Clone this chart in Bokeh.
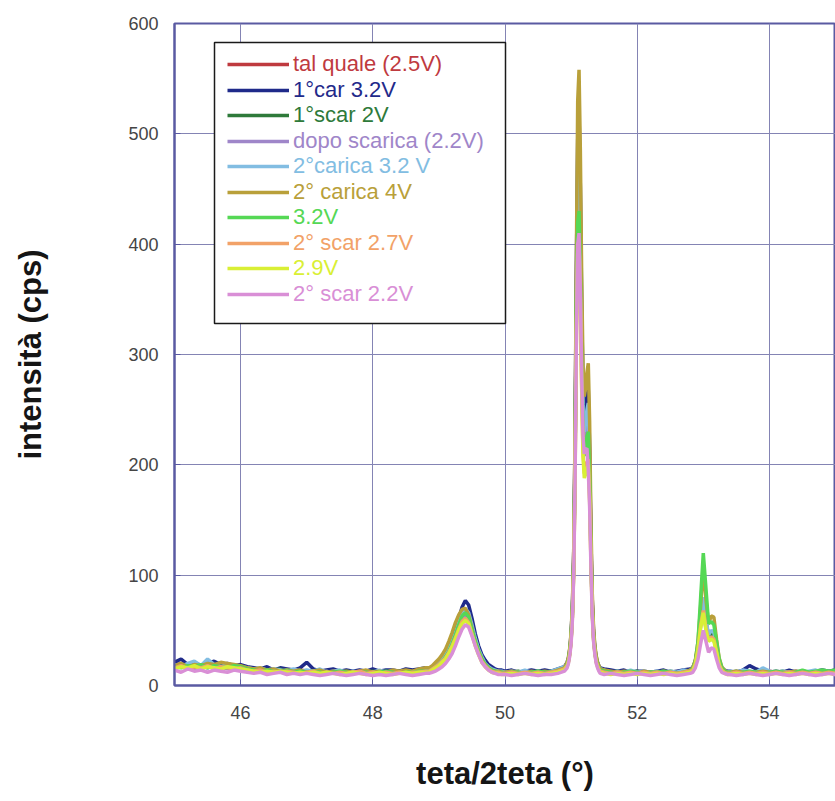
from bokeh.plotting import figure
from bokeh.models import Legend, LegendItem, BoxAnnotation, SingleIntervalTicker, Range1d
from bokeh.embed import file_html
from bokeh.resources import INLINE

# 2-theta grid (degrees)
two_theta = (
    [45.0, 45.1, 45.2, 45.3, 45.4, 45.5, 45.6, 45.7, 45.8, 45.9, 46.0, 46.1, 46.2, 46.3, 46.4, 46.5, 46.6, 46.7, 46.8, 46.9,
     47.0, 47.1, 47.2, 47.3, 47.4, 47.5, 47.6, 47.7, 47.8, 47.9, 48.0, 48.1, 48.2, 48.3, 48.4, 48.5, 48.6, 48.7, 48.8]
    + [48.85, 48.9, 48.95, 49.0, 49.05, 49.1, 49.15, 49.2, 49.25, 49.3, 49.35, 49.4, 49.45, 49.5, 49.55, 49.6, 49.65,
       49.7, 49.75, 49.8, 49.85, 49.9, 49.95]
    + [50.0, 50.1, 50.2, 50.3, 50.4, 50.5, 50.6, 50.7, 50.8, 50.9]
    + [50.94, 50.96, 50.98, 51.0, 51.02, 51.04, 51.06, 51.08, 51.1, 51.12, 51.14, 51.16, 51.18, 51.2, 51.22, 51.24,
       51.26, 51.28, 51.3, 51.32, 51.34, 51.36, 51.38, 51.4, 51.42, 51.44]
    + [51.5, 51.6, 51.7, 51.8, 51.9, 52.0, 52.1, 52.2, 52.3, 52.4, 52.5, 52.6, 52.7, 52.8]
    + [52.84, 52.88, 52.92, 52.96, 53.0, 53.04, 53.08, 53.12, 53.16, 53.2, 53.24, 53.28, 53.32, 53.36]
    + [53.4, 53.5, 53.6, 53.7, 53.8, 53.9, 54.0, 54.1, 54.2, 54.3, 54.4, 54.5, 54.6, 54.7, 54.8, 54.9, 55.0]
)

tal_quale = (
    [18, 20, 17, 19, 16, 18, 20, 16, 18, 15, 17, 14, 15, 13, 15, 12, 14, 13, 12, 14, 13, 12, 13, 11, 13, 12, 12, 11, 13, 12, 12, 11, 12, 13, 12, 11, 13, 12, 14]
    + [14, 16, 18, 20, 23, 27, 32, 39, 47, 56, 64, 68, 63, 52, 41, 32, 25, 20, 17, 15, 14, 13, 13]
    + [12, 13, 11, 12, 13, 12, 13, 12, 14, 16]
    + [20, 24, 31, 44, 68, 115, 210, 360, 460, 480, 420, 320, 250, 225, 232, 244, 250, 205, 128, 74, 47, 32, 24, 20, 17, 15]
    + [14, 13, 12, 13, 11, 12, 12, 11, 12, 13, 11, 12, 13, 14]
    + [16, 22, 36, 60, 78, 58, 45, 48, 46, 34, 21, 15, 13, 12]
    + [12, 11, 13, 12, 11, 12, 13, 12, 11, 12, 13, 11, 12, 11, 12, 13, 12]
)
car1_32 = (
    [21, 24, 19, 21, 18, 20, 22, 19, 20, 18, 19, 17, 16, 15, 17, 14, 16, 15, 14, 16, 21, 15, 13, 14, 15, 13, 14, 13, 14, 13, 15, 13, 14, 14, 13, 15, 14, 15, 16]
    + [15, 17, 19, 21, 24, 28, 33, 40, 49, 60, 71, 77, 73, 61, 47, 36, 28, 23, 19, 17, 15, 14, 14]
    + [13, 14, 12, 13, 14, 13, 14, 13, 15, 17]
    + [21, 25, 33, 47, 72, 122, 225, 380, 495, 520, 452, 345, 268, 240, 248, 262, 268, 216, 135, 78, 49, 34, 26, 21, 18, 16]
    + [15, 14, 13, 14, 12, 13, 13, 12, 13, 14, 12, 13, 14, 15]
    + [16, 22, 35, 58, 74, 56, 44, 47, 45, 33, 21, 16, 14, 13]
    + [13, 12, 14, 18, 15, 13, 12, 13, 12, 14, 12, 13, 12, 13, 14, 13, 14]
)
scar1_2 = (
    [17, 19, 18, 20, 17, 19, 18, 17, 19, 16, 18, 15, 14, 15, 13, 14, 15, 12, 14, 13, 12, 13, 12, 13, 11, 12, 13, 12, 11, 12, 13, 12, 11, 12, 13, 12, 12, 13, 13]
    + [13, 15, 17, 19, 22, 26, 31, 37, 45, 54, 62, 66, 62, 51, 40, 31, 24, 19, 16, 14, 13, 12, 12]
    + [11, 12, 13, 11, 12, 13, 12, 13, 13, 15]
    + [19, 23, 30, 42, 66, 112, 205, 350, 450, 470, 410, 312, 244, 220, 228, 240, 245, 198, 124, 71, 45, 31, 23, 19, 16, 14]
    + [13, 12, 13, 11, 12, 13, 11, 12, 12, 11, 13, 12, 12, 13]
    + [15, 21, 34, 57, 76, 56, 43, 47, 45, 33, 20, 15, 13, 12]
    + [12, 13, 11, 12, 13, 12, 11, 12, 13, 11, 12, 13, 12, 11, 12, 12, 13]
)
dopo_scarica = (
    [16, 18, 17, 15, 18, 16, 19, 17, 15, 17, 16, 14, 15, 13, 14, 12, 13, 14, 12, 13, 12, 11, 12, 13, 11, 12, 11, 12, 12, 11, 12, 11, 12, 11, 12, 11, 12, 11, 12]
    + [12, 14, 16, 18, 21, 25, 30, 36, 44, 53, 61, 64, 60, 50, 39, 30, 23, 18, 15, 13, 12, 12, 11]
    + [11, 12, 11, 12, 11, 12, 12, 11, 13, 15]
    + [18, 22, 29, 41, 63, 108, 198, 340, 435, 450, 392, 300, 235, 212, 220, 231, 236, 190, 120, 69, 43, 30, 22, 18, 15, 13]
    + [12, 11, 12, 11, 12, 11, 12, 11, 12, 11, 12, 11, 12, 13]
    + [14, 20, 32, 54, 70, 52, 41, 44, 42, 31, 19, 14, 12, 11]
    + [11, 12, 11, 12, 11, 12, 11, 12, 11, 12, 11, 12, 11, 12, 11, 12, 11]
)
carica2_32 = (
    [19, 17, 20, 22, 18, 24, 19, 17, 19, 18, 17, 16, 15, 16, 14, 15, 14, 13, 15, 13, 14, 13, 15, 12, 13, 14, 12, 13, 12, 13, 12, 14, 12, 13, 12, 13, 12, 13, 14]
    + [14, 16, 18, 21, 24, 28, 33, 40, 48, 57, 66, 70, 66, 55, 43, 33, 26, 20, 17, 15, 14, 13, 13]
    + [12, 13, 12, 14, 12, 13, 12, 13, 15, 17]
    + [20, 24, 32, 45, 70, 118, 215, 370, 475, 490, 428, 326, 255, 230, 238, 250, 256, 208, 130, 74, 46, 33, 24, 20, 17, 15]
    + [14, 12, 13, 12, 14, 12, 13, 12, 13, 12, 13, 12, 14, 13]
    + [16, 22, 36, 60, 80, 60, 46, 50, 48, 35, 22, 16, 14, 12]
    + [13, 12, 14, 13, 12, 16, 13, 12, 13, 12, 13, 12, 13, 14, 12, 13, 12]
)
carica2_4 = (
    [18, 20, 17, 19, 18, 20, 19, 21, 20, 19, 18, 16, 15, 16, 14, 15, 13, 14, 13, 14, 12, 13, 14, 12, 13, 12, 13, 12, 13, 14, 12, 13, 12, 14, 13, 14, 13, 15, 16]
    + [16, 18, 21, 24, 28, 33, 40, 48, 57, 64, 69, 70, 64, 52, 40, 31, 24, 19, 16, 14, 13, 13, 12]
    + [12, 13, 12, 11, 13, 12, 13, 12, 14, 16]
    + [21, 26, 34, 48, 74, 125, 230, 390, 530, 558, 485, 370, 290, 262, 270, 284, 292, 240, 150, 84, 52, 36, 27, 21, 18, 15]
    + [14, 13, 12, 13, 12, 11, 13, 12, 12, 13, 12, 11, 12, 14]
    + [16, 23, 40, 72, 108, 78, 56, 63, 62, 42, 25, 17, 14, 12]
    + [12, 13, 12, 11, 12, 13, 12, 11, 12, 12, 13, 12, 11, 12, 13, 12, 12]
)
v32 = (
    [17, 16, 18, 17, 19, 16, 18, 17, 16, 18, 17, 15, 14, 13, 14, 13, 12, 14, 12, 13, 12, 13, 12, 11, 12, 13, 12, 11, 12, 12, 11, 12, 13, 12, 11, 12, 12, 13, 13]
    + [13, 15, 17, 19, 22, 26, 31, 38, 46, 55, 63, 66, 62, 51, 40, 31, 24, 19, 16, 14, 13, 12, 12]
    + [11, 12, 12, 11, 12, 13, 12, 12, 13, 15]
    + [19, 23, 31, 44, 68, 112, 205, 350, 420, 430, 378, 290, 228, 208, 215, 226, 230, 188, 120, 69, 44, 31, 23, 19, 16, 14]
    + [13, 12, 11, 12, 13, 12, 11, 12, 12, 13, 12, 11, 12, 13]
    + [15, 22, 40, 80, 120, 88, 56, 58, 55, 40, 24, 16, 13, 12]
    + [12, 11, 12, 13, 12, 11, 12, 13, 12, 11, 12, 14, 12, 13, 14, 13, 14]
)
scar2_27 = (
    [16, 18, 15, 17, 16, 18, 15, 17, 16, 15, 16, 14, 13, 14, 12, 13, 12, 13, 12, 11, 12, 13, 11, 12, 11, 12, 11, 12, 13, 11, 12, 11, 12, 11, 12, 11, 12, 12, 13]
    + [13, 15, 17, 19, 22, 25, 30, 36, 43, 51, 58, 61, 57, 47, 37, 29, 22, 18, 15, 13, 12, 12, 11]
    + [11, 12, 11, 12, 11, 12, 11, 12, 13, 15]
    + [18, 22, 29, 41, 63, 105, 190, 320, 395, 405, 355, 272, 212, 192, 196, 202, 205, 172, 114, 67, 42, 30, 22, 18, 15, 13]
    + [12, 11, 12, 11, 12, 11, 12, 11, 12, 11, 12, 11, 12, 13]
    + [14, 20, 33, 55, 68, 52, 41, 44, 42, 31, 19, 14, 12, 11]
    + [11, 12, 11, 12, 11, 12, 11, 12, 11, 12, 11, 12, 11, 12, 11, 12, 11]
)
v29 = (
    [15, 17, 16, 18, 15, 17, 16, 15, 17, 16, 15, 14, 13, 12, 13, 12, 13, 12, 11, 12, 11, 12, 11, 12, 11, 10, 11, 12, 11, 10, 11, 12, 11, 10, 11, 12, 11, 12, 12]
    + [12, 14, 16, 18, 21, 24, 29, 35, 42, 50, 56, 59, 56, 46, 36, 28, 21, 17, 14, 12, 11, 11, 10]
    + [10, 11, 10, 11, 10, 11, 10, 11, 12, 14]
    + [17, 21, 28, 40, 62, 104, 188, 318, 392, 402, 350, 268, 208, 188, 192, 197, 200, 168, 112, 65, 41, 29, 21, 17, 14, 12]
    + [11, 10, 11, 10, 11, 10, 11, 10, 11, 10, 11, 10, 11, 12]
    + [13, 19, 32, 52, 66, 50, 40, 42, 40, 30, 18, 13, 11, 10]
    + [10, 11, 10, 11, 10, 11, 10, 11, 10, 11, 10, 11, 10, 11, 10, 11, 10]
)
scar2_22 = (
    [14, 12, 15, 13, 14, 12, 14, 13, 12, 14, 13, 12, 11, 12, 10, 11, 12, 10, 11, 10, 11, 10, 9, 10, 11, 10, 9, 10, 11, 10, 9, 10, 9, 10, 11, 10, 9, 10, 11]
    + [11, 12, 13, 15, 17, 20, 24, 29, 36, 44, 51, 55, 53, 45, 36, 28, 21, 17, 14, 12, 11, 10, 10]
    + [10, 9, 10, 11, 10, 9, 10, 10, 11, 13]
    + [16, 20, 27, 38, 60, 102, 185, 315, 400, 410, 358, 280, 225, 210, 214, 215, 195, 163, 108, 63, 40, 28, 20, 16, 13, 11]
    + [10, 11, 10, 9, 10, 11, 10, 9, 10, 11, 10, 9, 10, 11]
    + [12, 16, 24, 38, 50, 40, 30, 34, 33, 24, 16, 12, 11, 10]
    + [10, 9, 10, 11, 10, 9, 10, 11, 10, 9, 10, 11, 10, 9, 10, 11, 10]
)

labels = ["tal quale (2.5V)", "1°car 3.2V", "1°scar 2V", "dopo scarica (2.2V)", "2°carica 3.2 V",
          "2° carica 4V", "3.2V", "2° scar 2.7V", "2.9V", "2° scar 2.2V"]
series = [tal_quale, car1_32, scar1_2, dopo_scarica, carica2_32, carica2_4, v32, scar2_27, v29, scar2_22]
colors = ["#bf3a3f", "#1f2a8a", "#2e7a3a", "#9f86c9", "#82bde2", "#b9a03a", "#55d855", "#f2a268", "#d9ef35", "#d98fd6"]

for s in series:
    assert len(s) == len(two_theta), (len(s), len(two_theta))

AXIS_COL = "#5a5aa2"
GRID_COL = "#8484b4"
FONT = "Liberation Sans"

p = figure(width=835, height=801, x_range=Range1d(45, 55), y_range=Range1d(0, 600),
           output_backend="svg", toolbar_location=None,
           min_border_left=174, min_border_right=0, min_border_top=23, min_border_bottom=116)
p.background_fill_color = "white"
p.border_fill_color = "white"
p.outline_line_color = AXIS_COL
p.outline_line_width = 2

renderers = []
for ys, col in zip(series, colors):
    renderers.append(p.line(two_theta, ys, line_color=col, line_width=3.5))

p.xaxis.ticker = SingleIntervalTicker(interval=2, num_minor_ticks=0)
p.yaxis.ticker = SingleIntervalTicker(interval=100, num_minor_ticks=0)
for ax in (p.xaxis[0], p.yaxis[0]):
    ax.axis_line_color = AXIS_COL
    ax.axis_line_width = 2
    ax.major_tick_line_color = AXIS_COL
    ax.major_tick_in = 6
    ax.major_tick_out = 0
    ax.minor_tick_line_color = None
    ax.major_label_text_font = FONT
    ax.major_label_text_font_size = "18px"
    ax.major_label_text_color = "#454545"
    ax.axis_label_text_font = FONT
    ax.axis_label_text_font_style = "bold"
    ax.axis_label_text_font_size = "31px"
    ax.axis_label_text_color = "#151515"

p.xaxis.axis_label = "teta/2teta (°)"
p.yaxis.axis_label = "intensità (cps)"
p.xaxis.major_label_standoff = 20
p.xaxis.axis_label_standoff = 34
p.yaxis.major_label_standoff = 16
p.yaxis.axis_label_standoff = 77

p.xgrid.grid_line_color = GRID_COL
p.ygrid.grid_line_color = GRID_COL
p.xgrid.grid_line_width = 1
p.ygrid.grid_line_width = 1

# legend frame
box = BoxAnnotation(left=40, right=331, top=643, bottom=362,
                    left_units="screen", right_units="screen", top_units="screen", bottom_units="screen",
                    fill_color="white", fill_alpha=1.0, line_color="#1a1a1a", line_alpha=1.0, line_width=1.5)
p.add_layout(box)

for i, (lab, r, col) in enumerate(zip(labels, renderers, colors)):
    lg = Legend(items=[LegendItem(label=lab, renderers=[r])], location=(53, 608 - 25.5 * i),
                padding=0, margin=0, spacing=0, glyph_width=62, glyph_height=20, label_height=20,
                label_standoff=4, label_text_color=col, label_text_font=FONT,
                label_text_font_size="22px", border_line_alpha=0, background_fill_alpha=0)
    p.add_layout(lg)

open("out.html", "w").write(file_html(p, INLINE))
